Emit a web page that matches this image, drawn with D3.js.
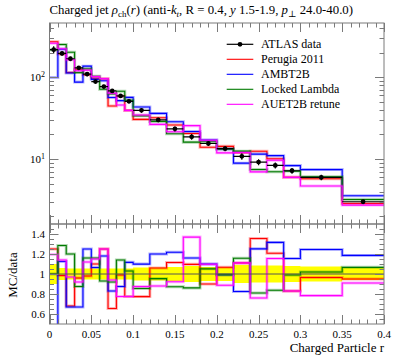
<!DOCTYPE html>
<html><head><meta charset="utf-8">
<script src="https://cdn.jsdelivr.net/npm/d3@7/dist/d3.min.js"></script>
<style>
body{margin:0;background:#fff}
svg{display:block}
text{font-family:"Liberation Serif","DejaVu Serif",serif;fill:#000}
</style>
</head><body>
<svg id="chart" width="397" height="358"></svg>
<script>
// ---------- data ----------
const binEdges = [0,0.01,0.02,0.03,0.04,0.05,0.06,0.07,0.08,0.09,0.1,0.12,0.14,0.16,0.18,0.2,0.22,0.24,0.26,0.28,0.3,0.35,0.4];
const atlasData = [217,195,168,130,109,88.4,76.7,68,59.1,50.7,39.4,30.1,23.4,18.7,15.5,13.4,10.8,9.19,8.36,7.2,5.97,3.01];
const atlasRelErr = [0.10,0.06,0.055,0.055,0.055,0.055,0.055,0.055,0.055,0.055,0.065,0.065,0.07,0.08,0.07,0.07,0.09,0.085,0.085,0.08,0.075,0.06];
const perugia2011 = [271.3,192.1,114.2,124.8,106.8,97.2,95.9,44.5,58.5,39.3,30.5,31.9,26.1,20.5,13.95,14.3,12.0,12.45,10.1,5.98,5.76,2.86];
const ambt2b = [99,219.4,112.6,87.1,136.3,94.1,90.5,56.4,51.7,56.6,43.3,36.1,28.5,21.7,17.05,13.3,8.91,11.5,11.0,8.32,7.43,3.57];
const lockedLambda = [217,250.6,201.6,113.8,126.4,102.5,71.3,62.6,67.4,52.2,33.7,28.7,20.4,16.1,16.3,13.3,12.5,7.44,7.0,7.13,6.09,3.21];
const auet2bRetune = [259.3,222.3,163,119.6,122.1,101.7,95.9,63.9,45.8,39.3,34.5,26.5,21.6,25.6,17.0,11.9,12.0,6.98,9.66,5.98,4.68,2.74];
const seriesNames = ["Perugia 2011","AMBT2B","Locked Lambda","AUET2B retune"];
const seriesColors = ["#ff0000","#0000ff","#007a00","#ff00ff"];
const seriesValues = [perugia2011, ambt2b, lockedLambda, auet2bRetune];
const xTickLabels = ["0","0.05","0.1","0.15","0.2","0.25","0.3","0.35","0.4"];
const ratioTickLabels = ["0.6","0.8","1","1.2","1.4"];

// ---------- layout ----------
const svg = d3.select("#chart");
const L = 49.5, R = 384, T = 23, M = 224, B = 324;
const x = d3.scaleLinear([0, 0.4], [L, R]);
const yMain = d3.scaleLog([1.61, 459], [M, T]);
const yRatio = d3.scaleLinear([0.5, 1.5], [B, M]);

const defs = svg.append("defs");
defs.append("clipPath").attr("id","clipMain").append("rect").attr("x",L).attr("y",T).attr("width",R-L).attr("height",M-T);
defs.append("clipPath").attr("id","clipRatio").append("rect").attr("x",L).attr("y",M).attr("width",R-L).attr("height",B-M);

function stepPoints(vals){
  const pts = [];
  vals.forEach((v,i)=>{ pts.push([binEdges[i], v]); pts.push([binEdges[i+1], v]); });
  return pts;
}

// ---------- ratio panel ----------
const gR = svg.append("g").attr("clip-path","url(#clipRatio)");
// yellow band
const bandArea = d3.area()
  .x(d=>x(d[0])).y0(d=>yRatio(1-d[1])).y1(d=>yRatio(1+d[1]));
gR.append("path").datum(stepPoints(atlasRelErr))
  .attr("d", bandArea).attr("fill","#ffff00").attr("stroke","none");
const lineR = d3.line().x(d=>x(d[0])).y(d=>yRatio(d[1]));
seriesValues.forEach((vals,k)=>{
  const ratio = vals.map((v,i)=>v/atlasData[i]);
  const pts = stepPoints(ratio);
  gR.append("path").datum(pts).attr("d",lineR).attr("fill","none")
    .attr("stroke",seriesColors[k]).attr("stroke-width",3).attr("stroke-opacity",0.3);
  gR.append("path").datum(pts).attr("d",lineR).attr("fill","none")
    .attr("stroke",seriesColors[k]).attr("stroke-width",1.1);
});
gR.append("line").attr("x1",L).attr("x2",R).attr("y1",yRatio(1)).attr("y2",yRatio(1))
  .attr("stroke","#555").attr("stroke-width",1);

// ---------- main panel ----------
const gM = svg.append("g").attr("clip-path","url(#clipMain)");
const lineM = d3.line().x(d=>x(d[0])).y(d=>yMain(d[1]));
seriesValues.forEach((vals,k)=>{
  const pts = stepPoints(vals);
  gM.append("path").datum(pts).attr("d",lineM).attr("fill","none")
    .attr("stroke",seriesColors[k]).attr("stroke-width",3).attr("stroke-opacity",0.3);
  gM.append("path").datum(pts).attr("d",lineM).attr("fill","none")
    .attr("stroke",seriesColors[k]).attr("stroke-width",1.1);
});
// data points
atlasData.forEach((v,i)=>{
  const lo = binEdges[i], hi = binEdges[i+1], mid = (lo+hi)/2, e = v*atlasRelErr[i];
  gM.append("line").attr("x1",x(lo)).attr("x2",x(hi)).attr("y1",yMain(v)).attr("y2",yMain(v))
    .attr("stroke","#000").attr("stroke-width",1.2);
  gM.append("line").attr("x1",x(mid)).attr("x2",x(mid)).attr("y1",yMain(v-e)).attr("y2",yMain(v+e))
    .attr("stroke","#000").attr("stroke-width",1.2);
  gM.append("circle").attr("cx",x(mid)).attr("cy",yMain(v)).attr("r",2.4).attr("fill","#000");
});

// ---------- frames and ticks ----------
const axCol = "#7a7a7a";
const gA = svg.append("g").attr("stroke",axCol).attr("stroke-width",1).attr("fill","none");
gA.append("rect").attr("x",L).attr("y",T).attr("width",R-L).attr("height",M-T);
gA.append("rect").attr("x",L).attr("y",M).attr("width",R-L).attr("height",B-M);
const MAJ = 9, MIN = 4.5;
function xTicks(yTop, yBot){
  const minor = d3.range(0, 0.4001, 0.01);
  minor.forEach(t=>{
    const isMaj = Math.abs(t/0.05 - Math.round(t/0.05)) < 1e-6;
    const len = isMaj ? MAJ : MIN;
    const px = Math.round(x(t))+0.5;
    gA.append("line").attr("x1",px).attr("x2",px).attr("y1",yBot).attr("y2",yBot-len);
    gA.append("line").attr("x1",px).attr("x2",px).attr("y1",yTop).attr("y2",yTop+len);
  });
}
xTicks(T, M);
xTicks(M, B);
// main y ticks (log)
const mainMajor = [10, 100];
const mainMinor = [2,3,4,5,6,7,8,9,20,30,40,50,60,70,80,90,200,300,400];
function yTick(py, len){
  py = Math.round(py)+0.5;
  gA.append("line").attr("x1",L).attr("x2",L+len).attr("y1",py).attr("y2",py);
  gA.append("line").attr("x1",R).attr("x2",R-len).attr("y1",py).attr("y2",py);
}
mainMajor.forEach(v=>yTick(yMain(v), MAJ));
mainMinor.forEach(v=>yTick(yMain(v), MIN));
// ratio y ticks
d3.range(0.55, 1.5, 0.05).forEach(v=>{
  const isMaj = Math.abs(v/0.2 - Math.round(v/0.2)) < 1e-6;
  yTick(yRatio(v), isMaj ? MAJ : MIN);
});

// ---------- labels ----------
const tl = svg.append("g").attr("font-size",11);
xTickLabels.forEach(s=>{
  tl.append("text").attr("x",x(+s)).attr("y",338).attr("text-anchor","middle").text(s);
});
ratioTickLabels.forEach(s=>{
  tl.append("text").attr("x",45).attr("y",yRatio(+s)+3.6).attr("text-anchor","end").text(s);
});
const mainExp = ["1","2"];
mainMajor.forEach((v,i)=>{
  const t = tl.append("text").attr("x",45).attr("y",yMain(v)+3.6).attr("text-anchor","end");
  t.append("tspan").text("10");
  t.append("tspan").attr("dy",-4).attr("font-size",8).text(mainExp[i]);
});

svg.append("text").attr("x",R).attr("y",351.5).attr("text-anchor","end").attr("font-size",13)
  .text("Charged Particle r");
svg.append("text").attr("transform","translate(16.5,275) rotate(-90)").attr("text-anchor","middle")
  .attr("font-size",13).text("MC/data");

// title
const title = svg.append("text").attr("x",L).attr("y",14).attr("font-size",12.8);
title.append("tspan").text("Charged jet ");
title.append("tspan").attr("font-style","italic").text("ρ");
title.append("tspan").attr("dy",2.5).attr("font-size",9).text("ch");
title.append("tspan").attr("dy",-2.5).text("(");
title.append("tspan").attr("font-style","italic").text("r");
title.append("tspan").text(") (anti-");
title.append("tspan").attr("font-style","italic").text("k");
title.append("tspan").attr("dy",2.5).attr("font-size",9).attr("font-style","italic").text("t");
title.append("tspan").attr("dy",-2.5).text(", R = 0.4, ");
title.append("tspan").attr("font-style","italic").text("y");
title.append("tspan").text(" 1.5-1.9, ");
title.append("tspan").attr("font-style","italic").text("p");
title.append("tspan").attr("dy",2.5).attr("font-size",9).text("⊥");
title.append("tspan").attr("dy",-2.5).text(" 24.0-40.0)");

// legend
const legNames = ["ATLAS data"].concat(seriesNames);
const legColors = ["#000"].concat(seriesColors);
const lg = svg.append("g");
legNames.forEach((n,i)=>{
  const yy = 44.3 + i*15;
  lg.append("line").attr("x1",226.7).attr("x2",253.3).attr("y1",yy).attr("y2",yy)
    .attr("stroke",legColors[i]).attr("stroke-width",i===0?1.2:1.1);
  if(i===0) lg.append("circle").attr("cx",240).attr("cy",yy).attr("r",2.4).attr("fill","#000");
  lg.append("text").attr("x",261).attr("y",yy+3.3).attr("font-size",12).text(n);
});
</script>
</body></html>
